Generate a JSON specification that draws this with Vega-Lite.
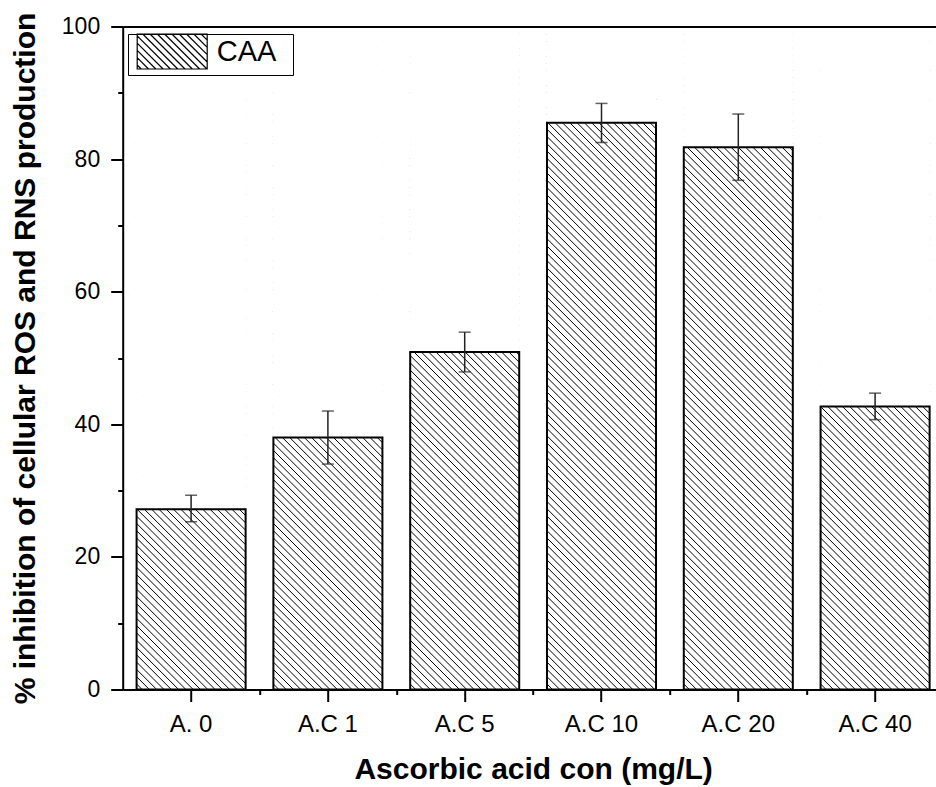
{
  "$schema": "https://vega.github.io/schema/vega-lite/v6.json",
  "width": 813.3,
  "height": 663,
  "autosize": "none",
  "padding": {"left": 122.7, "top": 26.5, "right": 0, "bottom": 97.5},
  "background": "white",
  "config": {
    "font": "Liberation Sans",
    "view": {"stroke": null},
    "axis": {"grid": false, "zindex": 1, "domainColor": "black", "tickColor": "black", "labelColor": "black", "titleColor": "black", "domainWidth": 2, "tickWidth": 2, "labelFont": "Liberation Sans", "titleFont": "Liberation Sans"}
  },
  "data": {"values": [
    {"cat": "A. 0", "value": 27.2, "lo": 25.3, "hi": 29.3},
    {"cat": "A.C 1", "value": 38.0, "lo": 34.0, "hi": 42.0},
    {"cat": "A.C 5", "value": 50.9, "lo": 47.9, "hi": 53.9},
    {"cat": "A.C 10", "value": 85.5, "lo": 82.5, "hi": 88.4},
    {"cat": "A.C 20", "value": 81.8, "lo": 76.8, "hi": 86.8},
    {"cat": "A.C 40", "value": 42.7, "lo": 40.7, "hi": 44.7}
  ]},
  "resolve": {"axis": {"x": "independent", "y": "independent"}},
  "layer": [
    {
      "mark": {"type": "point", "shape": "M-54.5,-772l109,109m-109,-101.7l109,109m-109,-101.7l109,109m-109,-101.7l109,109m-109,-101.7l109,109m-109,-101.7l109,109m-109,-101.7l109,109m-109,-101.7l109,109m-109,-101.7l109,109m-109,-101.7l109,109m-109,-101.7l109,109m-109,-101.7l109,109m-109,-101.7l109,109m-109,-101.7l109,109m-109,-101.7l109,109m-109,-101.7l109,109m-109,-101.7l109,109m-109,-101.7l109,109m-109,-101.7l109,109m-109,-101.7l109,109m-109,-101.7l109,109m-109,-101.7l109,109m-109,-101.7l109,109m-109,-101.7l109,109m-109,-101.7l109,109m-109,-101.7l109,109m-109,-101.7l109,109m-109,-101.7l109,109m-109,-101.7l109,109m-109,-101.7l109,109m-109,-101.7l109,109m-109,-101.7l109,109m-109,-101.7l109,109m-109,-101.7l109,109m-109,-101.7l109,109m-109,-101.7l109,109m-109,-101.7l109,109m-109,-101.7l109,109m-109,-101.7l109,109m-109,-101.7l109,109m-109,-101.7l109,109m-109,-101.7l109,109m-109,-101.7l109,109m-109,-101.7l109,109m-109,-101.7l109,109m-109,-101.7l109,109m-109,-101.7l109,109m-109,-101.7l109,109m-109,-101.7l109,109m-109,-101.7l109,109m-109,-101.7l109,109m-109,-101.7l109,109m-109,-101.7l109,109m-109,-101.7l109,109m-109,-101.7l109,109m-109,-101.7l109,109m-109,-101.7l109,109m-109,-101.7l109,109m-109,-101.7l109,109m-109,-101.7l109,109m-109,-101.7l109,109m-109,-101.7l109,109m-109,-101.7l109,109m-109,-101.7l109,109m-109,-101.7l109,109m-109,-101.7l109,109m-109,-101.7l109,109m-109,-101.7l109,109m-109,-101.7l109,109m-109,-101.7l109,109m-109,-101.7l109,109m-109,-101.7l109,109m-109,-101.7l109,109m-109,-101.7l109,109m-109,-101.7l109,109m-109,-101.7l109,109m-109,-101.7l109,109m-109,-101.7l109,109m-109,-101.7l109,109m-109,-101.7l109,109m-109,-101.7l109,109m-109,-101.7l109,109m-109,-101.7l109,109m-109,-101.7l109,109m-109,-101.7l109,109m-109,-101.7l109,109m-109,-101.7l109,109m-109,-101.7l109,109m-109,-101.7l109,109m-109,-101.7l109,109m-109,-101.7l109,109m-109,-101.7l109,109m-109,-101.7l109,109m-109,-101.7l109,109m-109,-101.7l109,109m-109,-101.7l109,109m-109,-101.7l109,109m-109,-101.7l109,109m-109,-101.7l109,109m-109,-101.7l109,109m-109,-101.7l109,109m-109,-101.7l109,109m-109,-101.7l109,109m-109,-101.7l109,109m-109,-101.7l109,109m-109,-101.7l109,109m-109,-101.7l109,109m-109,-101.7l109,109m-109,-101.7l109,109m-109,-101.7l109,109m-109,-101.7l109,109m-109,-101.7l109,109m-109,-101.7l109,109m-109,-101.7l109,109m-109,-101.7l109,109m-109,-101.7l109,109m-109,-101.7l109,109m-109,-101.7l109,109m-109,-101.7l109,109", "size": 4, "filled": false, "strokeWidth": 1, "opacity": 1, "clip": true},
      "encoding": {
        "x": {"field": "cat", "type": "nominal", "sort": null,
              "scale": {"type": "band", "range": [0, 820.8], "paddingInner": 0.203, "paddingOuter": 0.1015},
              "axis": {"orient": "bottom", "zindex": 1, "title": "Ascorbic acid con (mg/L)", "titleFontSize": 30, "titleFontWeight": "bold", "titlePadding": 18, "labelFontSize": 24, "labelPadding": 11, "tickSize": 12, "labelAngle": 0}},
        "y": {"datum": 0, "type": "quantitative", "scale": {"domain": [0, 100], "nice": false},
              "axis": {"orient": "left", "zindex": 1, "title": "% inhibition of cellular ROS and RNS production", "titleFontSize": 30, "titleFontWeight": "bold", "titlePadding": 21, "values": [0, 20, 40, 60, 80, 100], "labelFontSize": 23, "labelPadding": 11, "tickSize": 12}},
        "stroke": {"datum": "CAA", "type": "nominal", "scale": {"range": ["black"]},
                   "legend": {"title": null, "orient": "none", "legendX": 5.3, "legendY": 7.5,
                              "symbolType": "M-8.3,-17.5H61.7V17.5H-8.3ZM-8.3,13.5L-4.3,17.5M-8.3,6.2L3,17.5M-8.3,-1.1L10.3,17.5M-8.3,-8.4L17.6,17.5M-8.3,-15.7L24.9,17.5M-2.8,-17.5L32.2,17.5M4.5,-17.5L39.5,17.5M11.8,-17.5L46.8,17.5M19.1,-17.5L54.1,17.5M26.4,-17.5L61.4,17.5M33.7,-17.5L61.7,10.5M41,-17.5L61.7,3.2M48.3,-17.5L61.7,-4.1M55.6,-17.5L61.7,-11.4M141.4,0",
                              "symbolSize": 4, "symbolStrokeWidth": 1.2, "symbolStrokeColor": "black",
                              "labelFontSize": 29, "labelFont": "Liberation Sans", "labelColor": "black", "labelOffset": 56.7, "symbolOffset": 0,
                              "padding": 3, "strokeColor": "black", "fillColor": "white"}}
      }
    },
    {
      "mark": {"type": "bar", "fill": "white", "stroke": "white", "strokeWidth": 1},
      "encoding": {
        "x": {"field": "cat", "type": "nominal", "sort": null,
              "axis": {"orient": "bottom", "zindex": 1, "labels": false, "domain": false, "title": null, "tickSize": 5, "tickOffset": 68.4}},
        "y": {"field": "value", "type": "quantitative", "scale": {"domain": [0, 100], "nice": false},
              "axis": {"orient": "left", "zindex": 1, "values": [10, 30, 50, 70, 90], "labels": false, "domain": false, "title": null, "tickSize": 5}},
        "y2": {"datum": 100}
      }
    },
    {
      "mark": {"type": "bar", "fill": "transparent", "stroke": "black", "strokeWidth": 2},
      "encoding": {
        "x": {"field": "cat", "type": "nominal", "sort": null,
              "axis": {"orient": "top", "zindex": 2, "labels": false, "ticks": false, "title": null, "domain": true}},
        "y": {"field": "value", "type": "quantitative", "scale": {"domain": [0, 100], "nice": false}, "axis": null}
      }
    },
    {
      "mark": {"type": "rule", "stroke": "#222222", "strokeWidth": 1.5},
      "encoding": {
        "x": {"field": "cat", "type": "nominal", "sort": null, "axis": null},
        "y": {"field": "lo", "type": "quantitative", "scale": {"domain": [0, 100], "nice": false}, "axis": null},
        "y2": {"field": "hi"}
      }
    },
    {
      "mark": {"type": "tick", "color": "#222222", "size": 12, "thickness": 1.5},
      "encoding": {
        "x": {"field": "cat", "type": "nominal", "sort": null, "axis": null},
        "y": {"field": "lo", "type": "quantitative", "scale": {"domain": [0, 100], "nice": false}, "axis": null}
      }
    },
    {
      "mark": {"type": "tick", "color": "#222222", "size": 12, "thickness": 1.5},
      "encoding": {
        "x": {"field": "cat", "type": "nominal", "sort": null, "axis": null},
        "y": {"field": "hi", "type": "quantitative", "scale": {"domain": [0, 100], "nice": false}, "axis": null}
      }
    }
  ]
}
